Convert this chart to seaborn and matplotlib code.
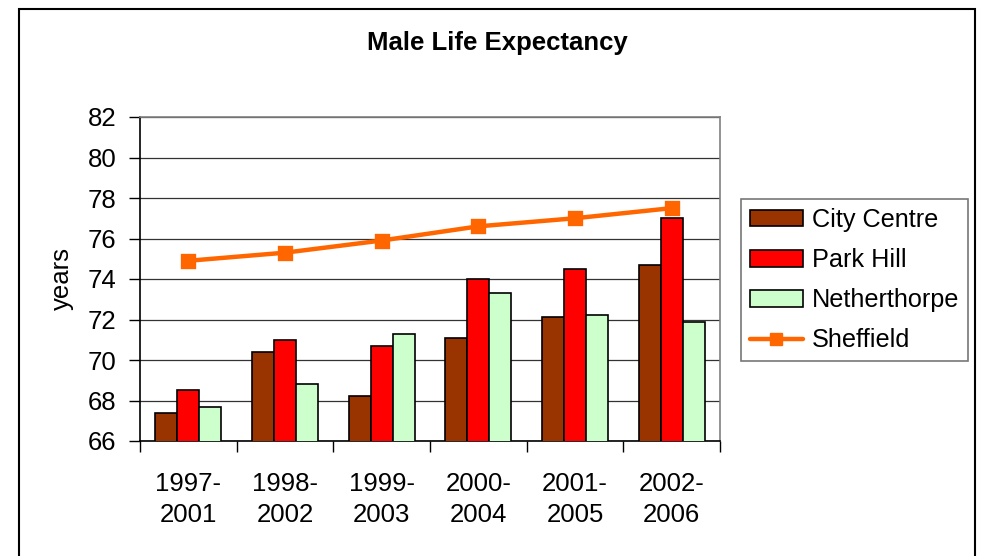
import matplotlib
matplotlib.use("Agg")
import matplotlib.pyplot as plt
import seaborn as sns
import pandas as pd
from matplotlib.patches import Rectangle, Patch
from matplotlib.lines import Line2D

periods = ["1997-\n2001", "1998-\n2002", "1999-\n2003", "2000-\n2004", "2001-\n2005", "2002-\n2006"]
city_centre = [67.4, 70.4, 68.2, 71.1, 72.1, 74.7]
park_hill = [68.5, 71.0, 70.7, 74.0, 74.5, 77.0]
netherthorpe = [67.7, 68.8, 71.3, 73.3, 72.2, 71.9]
sheffield = [74.9, 75.3, 75.9, 76.6, 77.0, 77.5]
series_names = ["City Centre", "Park Hill", "Netherthorpe"]
colors = {"City Centre": "#993300", "Park Hill": "#FF0000", "Netherthorpe": "#CCFFCC"}
line_color = "#FF6600"

sns.set_theme(style="white")
plt.rcParams["font.family"] = ["Liberation Sans", "DejaVu Sans"]
for k in ["text.color", "axes.labelcolor", "xtick.color", "ytick.color"]:
    plt.rcParams[k] = "black"

rows = []
for name, vals in zip(series_names, [city_centre, park_hill, netherthorpe]):
    for p, v in zip(periods, vals):
        rows.append({"period": p, "series": name, "value": v})
df = pd.DataFrame(rows)

fig = plt.figure(figsize=(9.82, 5.56), dpi=100)
ax = fig.add_axes([140/982, 1-441/556, (720-140)/982, (441-117)/556])

sns.barplot(data=df, x="period", y="value", hue="series", order=periods,
            hue_order=series_names, palette=colors, saturation=1, width=0.68, gap=0,
            edgecolor="black", linewidth=1.2, ax=ax, legend=False, zorder=3)

sheff_df = pd.DataFrame({"period": periods, "value": sheffield})
sns.pointplot(data=sheff_df, x="period", y="value", order=periods, color=line_color,
              markers="s", markersize=9, linewidth=3.2, ax=ax, zorder=5)

ax.set_ylim(66, 82)
ax.set_xlim(-0.5, 5.5)
ax.set_yticks(range(66, 83, 2))
ax.yaxis.grid(True, color="#333333", linewidth=0.9, zorder=0)
ax.set_axisbelow(True)
ax.set_xlabel("")
ax.set_ylabel("")

# category boundary ticks on x axis
ax.set_xticks([i - 0.5 for i in range(7)], minor=False)
ax.set_xticklabels([""] * 7)
ax.set_xticks(range(6), minor=True)
ax.set_xticklabels(periods, minor=True, fontsize=18.5, linespacing=1.4)
ax.tick_params(axis="x", which="major", direction="out", length=8, width=1, color="black", bottom=True)
ax.tick_params(axis="x", which="minor", length=0, pad=22)
ax.tick_params(axis="y", direction="out", length=8, width=1, color="black", left=True, labelsize=18.5, pad=9)

for s in ["left", "bottom"]:
    ax.spines[s].set_color("black")
    ax.spines[s].set_linewidth(1.2)
for s in ["top", "right"]:
    ax.spines[s].set_visible(True)
    ax.spines[s].set_color("#808080")
    ax.spines[s].set_linewidth(1.2)

fig.text(497/982, 1-43/556, "Male Life Expectancy", ha="center", va="center",
         fontsize=18.5, fontweight="bold")
fig.text(62/982, 1-279/556, "years", rotation=90, ha="center", va="center", fontsize=18.5)

handles = [Patch(facecolor=colors[n], edgecolor="black", linewidth=1.2) for n in series_names]
handles.append(Line2D([0], [0], color=line_color, linewidth=3.2, marker="s", markersize=9))
leg = fig.legend(handles, series_names + ["Sheffield"], loc="upper left",
                 bbox_to_anchor=(741/982, 1-199/556), bbox_transform=fig.transFigure,
                 fontsize=18.2, frameon=True, fancybox=False, borderaxespad=0,
                 handlelength=2.1, handleheight=0.65, handletextpad=0.35,
                 borderpad=0.35, labelspacing=0.64)
leg.get_frame().set_edgecolor("#555555")
leg.get_frame().set_linewidth(1.2)

fig.patches.append(Rectangle((19/982, -0.1), (975-19)/982, 1.1 - 9/556,
                             transform=fig.transFigure, fill=False,
                             edgecolor="black", linewidth=1.5))

fig.savefig("out.png", dpi=100)
